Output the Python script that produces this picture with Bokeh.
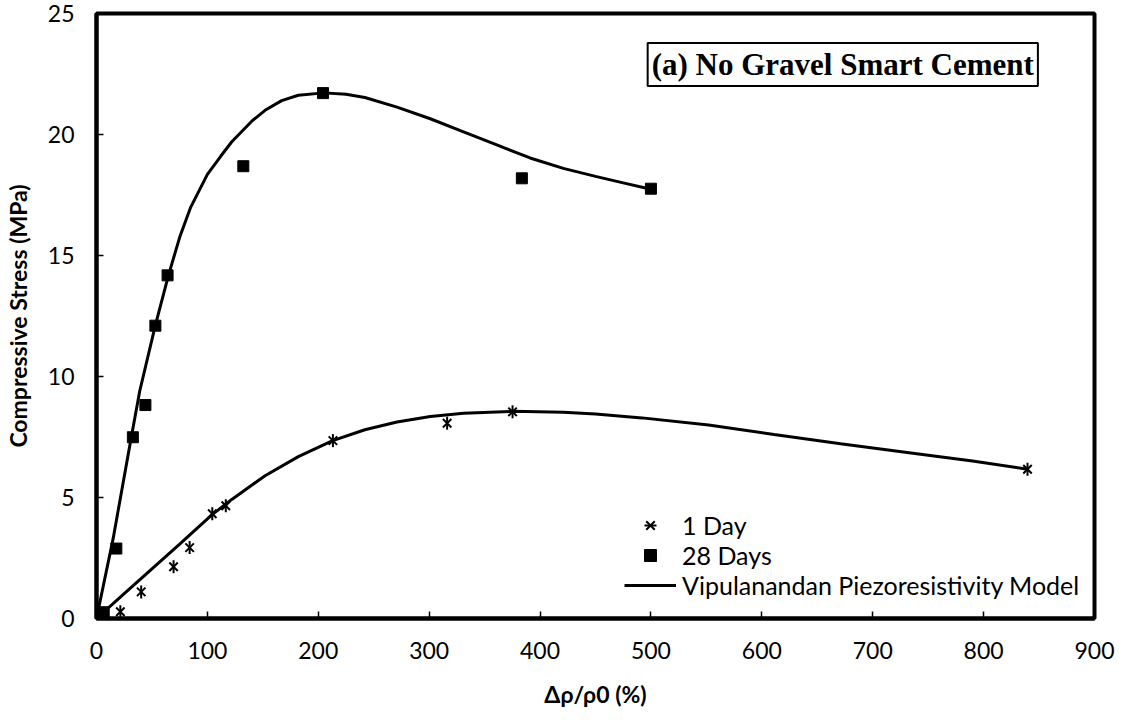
import math
from bokeh.plotting import figure
from bokeh.models import Range1d, Legend, LegendItem, Label, FixedTicker
from bokeh.embed import file_html
from bokeh.resources import INLINE

# ---- data ----
day1_x = [0, 7, 21.5, 40.3, 69.5, 84, 104.4, 116.6, 213.2, 316.2, 375.2, 839.6]
day1_y = [0, 0.05, 0.28, 1.1, 2.14, 2.93, 4.33, 4.66, 7.35, 8.07, 8.54, 6.17]

day28_x = [0, 6.5, 17.9, 32.8, 44.1, 53.1, 64.1, 132.4, 204.3, 383.6, 500]
day28_y = [0, 0.26, 2.89, 7.49, 8.82, 12.1, 14.18, 18.69, 21.71, 18.19, 17.76]

model1_x = [0, 25, 50, 75, 104, 122, 152, 182, 213, 242, 271, 301, 331, 375,
            421, 450, 492, 552, 611, 671, 731, 790, 840]
model1_y = [0, 1.03, 2.05, 3.07, 4.28, 4.92, 5.9, 6.69, 7.35, 7.8, 8.12, 8.35,
            8.48, 8.56, 8.52, 8.45, 8.29, 8.0, 7.6, 7.22, 6.86, 6.51, 6.17]

model28_x = [0, 15, 31, 39, 53, 65, 75, 85, 100, 112, 122, 140, 152, 167, 182,
             205, 225, 242, 271, 301, 331, 361, 391, 421, 450, 475, 500]
model28_y = [0, 3.3, 7.4, 9.4, 12.1, 14.2, 15.75, 17.0, 18.35, 19.1, 19.7,
             20.55, 21.0, 21.4, 21.62, 21.72, 21.66, 21.53, 21.13, 20.65, 20.11,
             19.57, 19.03, 18.6, 18.27, 18.0, 17.74]

x_ticks = [0, 100, 200, 300, 400, 500, 600, 700, 800, 900]
y_ticks = [0, 5, 10, 15, 20, 25]

series_labels = ["1 Day", "28 Days", "Vipulanandan Piezoresistivity Model"]
title_text = "(a) No Gravel Smart Cement"
x_label = "Δρ/ρ0 (%)"
y_label = "Compressive Stress (MPa)"

FONT = "Lato"

p = figure(width=1116, height=710, output_backend="svg", toolbar_location=None,
           x_range=Range1d(0, 900), y_range=Range1d(0, 25),
           min_border_left=89, min_border_right=22, min_border_top=13,
           min_border_bottom=86)
p.grid.visible = False
p.background_fill_color = "white"
p.border_fill_color = "white"
p.outline_line_color = "black"
p.outline_line_width = 4

for ax in (p.xaxis[0], p.yaxis[0]):
    ax.axis_line_color = "black"
    ax.axis_line_width = 4
    ax.major_tick_in = 7
    ax.major_tick_out = 0
    ax.major_tick_line_width = 1.5
    ax.minor_tick_line_color = None
    ax.major_label_text_font = FONT
    ax.major_label_text_font_size = "23px"
    ax.major_label_text_color = "black"
    ax.axis_label_text_font = FONT
    ax.axis_label_text_font_style = "bold"
    ax.axis_label_text_font_size = "23px"
    ax.axis_label_text_color = "black"

p.xaxis.ticker = FixedTicker(ticks=x_ticks)
p.yaxis.ticker = FixedTicker(ticks=y_ticks)
p.xaxis.major_label_standoff = 23
p.yaxis.major_label_standoff = 22
p.xaxis.axis_label = x_label
p.yaxis.axis_label = y_label
p.xaxis.axis_label_standoff = 18
p.yaxis.axis_label_standoff = 13

r_m1 = p.line(model1_x, model1_y, line_color="black", line_width=3)
r_m28 = p.line(model28_x, model28_y, line_color="black", line_width=3)
r_d1a = p.scatter(day1_x, day1_y, marker="x", size=12, line_color="black",
                  line_width=2)
r_d1b = p.scatter(day1_x, day1_y, marker="dash", size=13, angle=math.pi / 2,
                  line_color="black", line_width=2)
r_d28 = p.scatter(day28_x, day28_y, marker="square", size=11, fill_color="black",
                  line_color="black")

legend = Legend(items=[LegendItem(label=series_labels[0], renderers=[r_d1a, r_d1b]),
                       LegendItem(label=series_labels[1], renderers=[r_d28]),
                       LegendItem(label=series_labels[2], renderers=[r_m1])],
                location=(528, 18), orientation="vertical",
                glyph_width=52, glyph_height=30, label_height=30,
                label_standoff=6, spacing=0, padding=0, margin=0,
                border_line_color=None, background_fill_alpha=0,
                label_text_font=FONT, label_text_font_size="25px",
                label_text_color="black")
p.add_layout(legend)

title = Label(x=673, y=22.89, text=title_text, text_align="center",
              text_baseline="middle", text_font="Liberation Serif",
              text_font_style="bold", text_font_size="31px", text_color="black",
              border_line_color="black", border_line_width=2,
              background_fill_color="white", padding=4)
p.add_layout(title)

open("out.html", "w").write(file_html(p, INLINE))
